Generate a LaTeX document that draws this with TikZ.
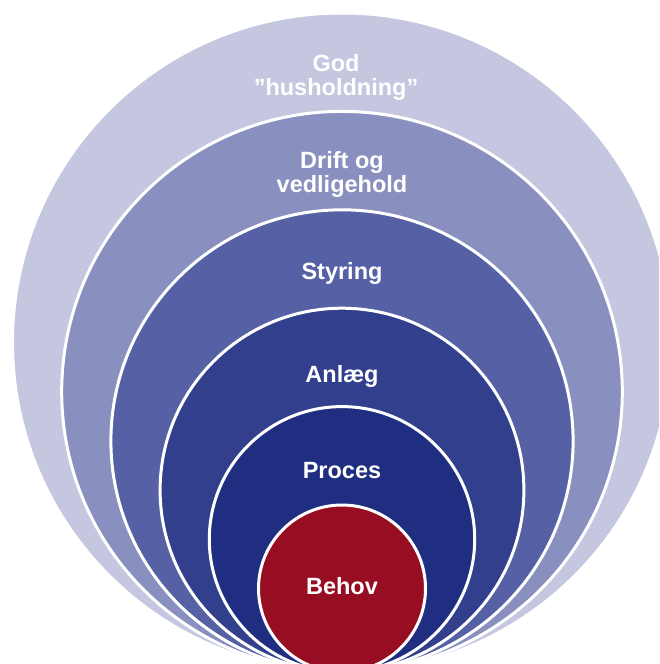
\documentclass[tikz,border=0pt]{standalone}
\usepackage{fontspec}
\setmainfont{Liberation Sans}
\definecolor{ringA}{HTML}{C4C7DF}
\definecolor{ringB}{HTML}{8990BF}
\definecolor{ringC}{HTML}{5561A4}
\definecolor{ringD}{HTML}{323F8D}
\definecolor{ringE}{HTML}{1F2E80}
\definecolor{coreR}{HTML}{970D22}
\tikzset{
  ring/.style={draw=white, line width=3pt},
  lbl/.style={text=white, font=\fontsize{23.5}{25}\selectfont\bfseries, anchor=base, inner sep=0pt}
}
\begin{document}
\begin{tikzpicture}[x=1pt,y=-1pt]
\useasboundingbox (0,0) rectangle (659,664);
\clip (0,0) rectangle (659,664);
\coordinate (tp) at (342,672);
\filldraw[ring, fill=ringA] (342,{672-329.5}) circle [radius=329.5pt];
\filldraw[ring, fill=ringB] (342,{672-280.3}) circle [radius=280.3pt];
\filldraw[ring, fill=ringC] (342,{672-231.1}) circle [radius=231.1pt];
\filldraw[ring, fill=ringD] (342,{672-181.9}) circle [radius=181.9pt];
\filldraw[ring, fill=ringE] (342,{672-132.7}) circle [radius=132.7pt];
\filldraw[ring, fill=coreR] (342,{672-83.5}) circle [radius=83.5pt];
\node[lbl] (god1) at (336,71) {God};
\node[lbl] (god2) at (336,95) {”husholdning”};
\node[lbl] (drift1) at (342,168) {Drift og};
\node[lbl] (drift2) at (342,192) {vedligehold};
\node[lbl] (styr) at (342,279) {Styring};
\node[lbl] (anl) at (342,382) {Anlæg};
\node[lbl] (proc) at (342,478) {Proces};
\node[lbl] (beh) at (342,594) {Behov};
\end{tikzpicture}
\end{document}
